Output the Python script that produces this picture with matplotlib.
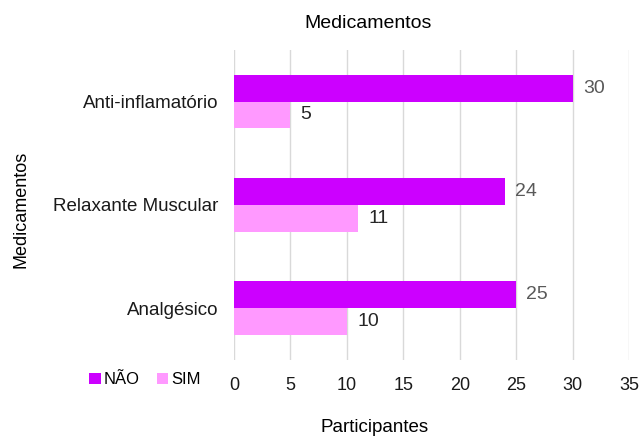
import matplotlib
matplotlib.use("Agg")
import matplotlib.pyplot as plt
import numpy as np

categorias = ["Anti-inflamatório", "Relaxante Muscular", "Analgésico"]
nao = [30, 24, 25]
sim = [5, 11, 10]
xticks = [0, 5, 10, 15, 20, 25, 30, 35]

COR_NAO = "#CC00FF"
COR_SIM = "#FF99FF"

plt.rcParams["font.family"] = ["Liberation Sans", "DejaVu Sans"]

fig = plt.figure(figsize=(6.42, 4.37), dpi=100)
ax = fig.add_axes([0.3645, 0.176, 0.6155, 0.71])

y = np.arange(len(categorias))
h = 0.26
b1 = ax.barh(y - h / 2, nao, height=h, color=COR_NAO, label="NÃO")
b2 = ax.barh(y + h / 2, sim, height=h, color=COR_SIM, label="SIM")

for rect, v in zip(b1, nao):
    ax.text(v + 0.9, rect.get_y() + rect.get_height() / 2, str(v),
            va="center", ha="left", fontsize=14, color="#595959")
for rect, v in zip(b2, sim):
    ax.text(v + 0.9, rect.get_y() + rect.get_height() / 2, str(v),
            va="center", ha="left", fontsize=14, color="#262626")

ax.set_xlim(0, 35)
ax.set_ylim(2.5, -0.5)
ax.set_xticks(xticks)
ax.set_yticks(y)
ax.set_yticklabels(categorias, fontsize=13.5)
ax.tick_params(axis="both", length=0, colors="#1a1a1a")
ax.tick_params(axis="x", pad=12, labelsize=13)
ax.tick_params(axis="y", pad=11)
ax.xaxis.grid(True, color="#d9d9d9", linewidth=1)
ax.set_axisbelow(True)
for s in ax.spines.values():
    s.set_visible(False)

fig.text(0.573, 0.946, "Medicamentos", ha="center", va="center", fontsize=14)
fig.text(0.583, 0.022, "Participantes", ha="center", va="center", fontsize=13.5)
fig.text(0.033, 0.52, "Medicamentos", ha="center", va="center", rotation=90, fontsize=13)

fig.legend(handles=[b1, b2], loc="center", bbox_to_anchor=(0.226, 0.131), ncol=2,
           frameon=False, fontsize=12, handlelength=0.7, handleheight=0.7,
           handletextpad=0.2, columnspacing=1.0)

fig.savefig("out.png", dpi=100)
